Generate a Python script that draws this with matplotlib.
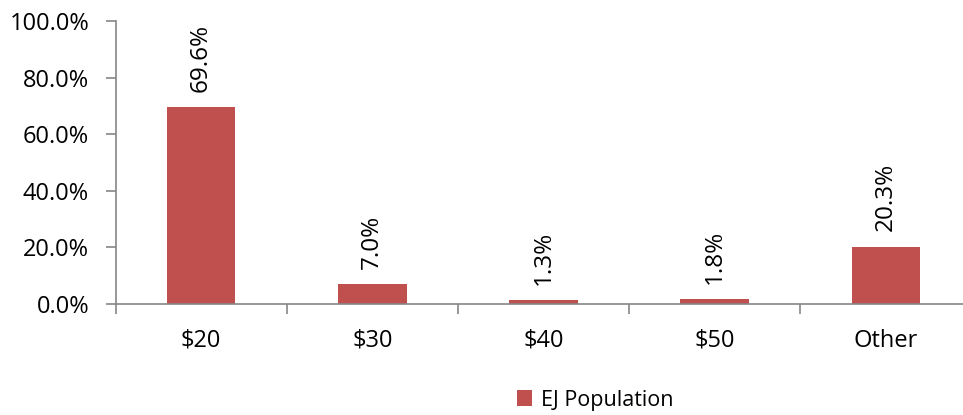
import matplotlib
matplotlib.use("Agg")
import matplotlib.pyplot as plt
from matplotlib.ticker import FuncFormatter, FixedLocator

plt.rcParams['font.family'] = ['Open Sans', 'DejaVu Sans']

categories = ['$20', '$30', '$40', '$50', 'Other']
ej_population = [69.6, 7.0, 1.3, 1.8, 20.3]

bar_color = '#C0504D'
axis_color = '#868686'

fig = plt.figure(figsize=(9.63, 4.15), dpi=100)
# axes run slightly past the right edge, as in the original layout
ax = fig.add_axes([115.5 / 963, 1 - 304 / 415, 856 / 963, 283 / 415])

x = list(range(len(categories)))
bars = ax.bar(x, ej_population, width=0.40, color=bar_color, label='EJ Population', zorder=2)

for xi, v in zip(x, ej_population):
    ax.annotate(f'{v:.1f}%', (xi, v), xytext=(0, 11), textcoords='offset points',
                rotation=90, ha='center', va='bottom', fontsize=17.5, color='black')

ax.set_xlim(-0.5, len(categories) - 0.5)
ax.set_ylim(0, 100)
ax.set_yticks([0, 20, 40, 60, 80, 100])
ax.yaxis.set_major_formatter(FuncFormatter(lambda v, p: f'{v:.1f}%'))

ax.set_xticks(x)
ax.set_xticklabels(categories)
ax.tick_params(axis='x', which='major', length=0, pad=18, labelsize=17)
ax.xaxis.set_minor_locator(FixedLocator([i - 0.5 for i in range(len(categories) + 1)]))
ax.tick_params(axis='x', which='minor', length=7, color=axis_color, width=1.2)
ax.tick_params(axis='y', length=7, color=axis_color, width=1.2, labelsize=17, pad=12)

for side in ['top', 'right']:
    ax.spines[side].set_visible(False)
for side in ['left', 'bottom']:
    ax.spines[side].set_color(axis_color)
    ax.spines[side].set_linewidth(1.2)

fig.legend(handles=[bars], labels=['EJ Population'], loc='center', bbox_to_anchor=(595 / 963, 1 - 400 / 415),
           frameon=False, fontsize=15.5, handlelength=0.7, handleheight=0.7, handletextpad=0.4)

fig.savefig('out.png', dpi=100)
